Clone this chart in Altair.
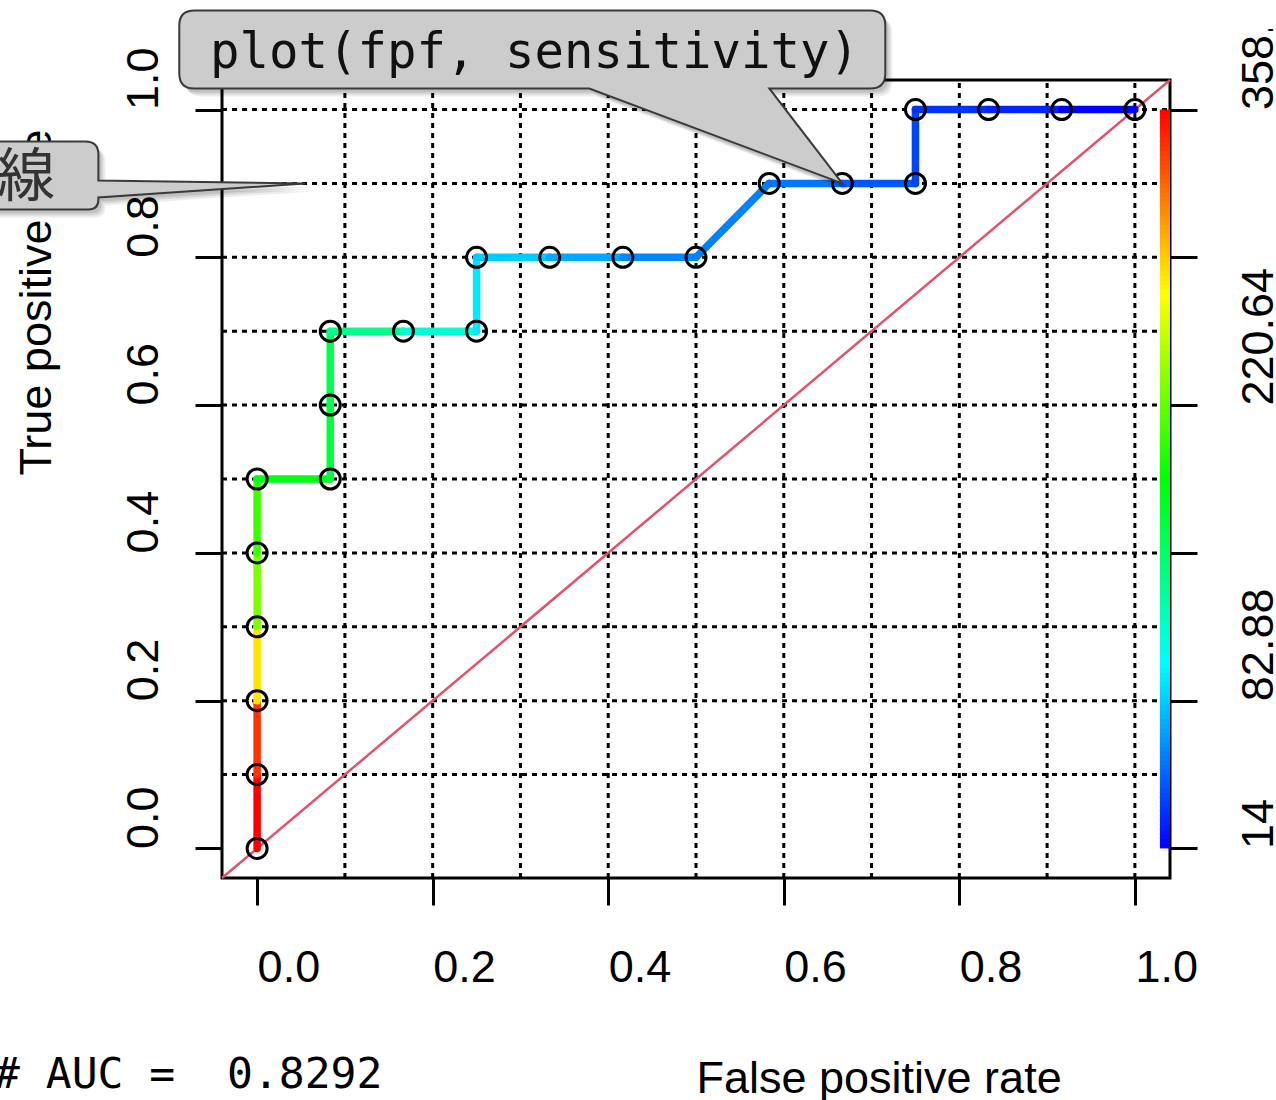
import altair as alt
import pandas as pd
import numpy as np

# ---------------- data ----------------
fpr = [0, 0, 0, 0, 0, 0, 1/12, 1/12, 1/12, 2/12, 3/12, 3/12, 4/12, 5/12, 6/12,
       7/12, 8/12, 9/12, 9/12, 10/12, 11/12, 1.0]
tpr = [0.0, 0.1, 0.2, 0.3, 0.4, 0.5, 0.5, 0.6, 0.7, 0.7, 0.7, 0.8, 0.8, 0.8, 0.8,
       0.9, 0.9, 0.9, 1.0, 1.0, 1.0, 1.0]
cutoff = [float("inf"), 358.4, 341, 281, 228, 207, 179, 165, 160, 140, 114, 92, 83,
          71, 60, 58, 54, 43, 37, 31, 26, 14]
auc_text = "# AUC =\u00a0\u00a00.8292"

x_ticks = [0.0, 0.2, 0.4, 0.6, 0.8, 1.0]
y_ticks = [0.0, 0.2, 0.4, 0.6, 0.8, 1.0]
grid_vals = [0.1, 0.2, 0.3, 0.4, 0.5, 0.6, 0.7, 0.8, 0.9, 1.0]
cb_ticks = [14, 82.88, 151.76, 220.64, 289.52, 358.4]
cb_labels = [14, 82.88, 220.64, 358.4]
rainbow = ["#0000FF", "#00FFFF", "#00FF00", "#FFFF00", "#FF0000"]

callout1_text = "plot(fpf, sensitivity)"
callout2_text = "線"

# ---------------- layout ----------------
XMIN, XMAX = -0.04, 1.04
W, H = 948, 798
cmin, cmax = 14, 358.4
crange = cmax - cmin
cb_lo, cb_hi = cmin - 0.04 * crange, cmax + 0.04 * crange

xs = alt.Scale(domain=[XMIN, XMAX], nice=False, zero=False)
ys = alt.Scale(domain=[XMIN, XMAX], nice=False, zero=False)
cs = alt.Scale(domain=[cb_lo, cb_hi], nice=False, zero=False)
color_scale = alt.Scale(domain=list(np.linspace(cmin, cmax, 5)), range=rainbow,
                        interpolate="rgb")

FONT = "Liberation Sans"

xaxis = alt.Axis(values=x_ticks, format=".1f", tickSize=27, tickWidth=3, tickColor="black",
                 domain=False, grid=False, labelFont=FONT, labelFontSize=45,
                 labelColor="black", labelAlign="left", labelBaseline="top",
                 labelPadding=40, labelAngle=0, labelFlush=False, labelOverlap=False,
                 title="False positive rate", titleFont=FONT, titleFontSize=45,
                 titleFontWeight="normal", titleColor="black", titleAlign="left",
                 titleBaseline="alphabetic", titleAngle=0, titleX=474, titleY=214)

yaxis = alt.Axis(values=y_ticks, format=".1f", tickSize=27, tickWidth=3, tickColor="black",
                 domain=False, grid=False, labelFont=FONT, labelFontSize=45,
                 labelColor="black", labelAlign="left", labelBaseline="alphabetic",
                 labelPadding=38, labelAngle=270, labelFlush=False, labelOverlap=False,
                 title="True positive rate", titleFont=FONT, titleFontSize=45,
                 titleFontWeight="normal", titleColor="black", titleAlign="left",
                 titleBaseline="alphabetic", titleAngle=270, titleX=-172, titleY=395)

shown = " || ".join(f"datum.value == {v}" for v in cb_labels)
raxis = alt.Axis(orient="right", values=cb_ticks, tickSize=27, tickWidth=3,
                 tickColor="black", domain=False, grid=False, labelFont=FONT,
                 labelFontSize=45, labelColor="black", labelAlign="left",
                 labelBaseline="alphabetic", labelPadding=75, labelAngle=270,
                 labelFlush=False, labelOverlap=False,
                 labelExpr=f"({shown}) ? format(datum.value, '~g') : ''", title="")

# ---------------- frames ----------------
seg_df = pd.DataFrame({
    "x": fpr[:-1], "y": tpr[:-1], "x2": fpr[1:], "y2": tpr[1:], "c": cutoff[1:]
})
pts_df = pd.DataFrame({"x": fpr, "y": tpr})
vgrid = pd.DataFrame({"x": grid_vals, "y": XMIN, "y2": XMAX})
hgrid = pd.DataFrame({"y": grid_vals, "x": XMIN, "x2": XMAX})
diag_df = pd.DataFrame({"x": [XMIN], "y": [XMIN], "x2": [XMAX], "y2": [XMAX]})

levels = np.linspace(cmin, cmax, 161)
cb_df = pd.DataFrame({
    "lo": levels[:-1],
    "hi": np.minimum(levels[1:] + 0.6, cmax),
    "mid": (levels[:-1] + levels[1:]) / 2,
    "x": 1.0285, "x2": XMAX,
})

X = lambda f: alt.X(f, type="quantitative", scale=xs, axis=xaxis)
Y = lambda f: alt.Y(f, type="quantitative", scale=ys, axis=yaxis)

dash = dict(color="black", strokeWidth=3, strokeDash=[5, 5])
g1 = alt.Chart(vgrid).mark_rule(**dash).encode(x=X("x"), y=Y("y"), y2="y2")
g2 = alt.Chart(hgrid).mark_rule(**dash).encode(x=X("x"), x2="x2", y=Y("y"))
diag = alt.Chart(diag_df).mark_rule(color="#DF536B", strokeWidth=2.5).encode(
    x=X("x"), y=Y("y"), x2="x2", y2="y2")
segs = alt.Chart(seg_df).mark_rule(strokeWidth=7.5, strokeCap="round").encode(
    x=X("x"), y=Y("y"), x2="x2", y2="y2",
    color=alt.Color("c:Q", scale=color_scale, legend=None))
pts = alt.Chart(pts_df).mark_point(shape="circle", size=400, filled=False, color="black",
                                   strokeWidth=3, opacity=1).encode(x=X("x"), y=Y("y"))

main = alt.layer(g1, g2, diag, segs, pts)

cbar = alt.Chart(cb_df).mark_rect(strokeWidth=0).encode(
    x=X("x"), x2="x2",
    y=alt.Y("lo:Q", scale=cs, axis=raxis), y2="hi",
    color=alt.Color("mid:Q", scale=color_scale, legend=None))

# ---------------- callouts ----------------
path1 = ("M -648 -173 L 28 -173 Q 43 -173 43 -158 L 43 -110 Q 43 -95 28 -95 "
         "L -73 -95 L 0 0 L -253 -95 L -648 -95 Q -663 -95 -663 -110 "
         "L -663 -158 Q -663 -173 -648 -173 Z")
path2 = ("M -312 -42 L -220 -42 Q -207 -42 -207 -29 L -207 -3 L 0 0 L -207 14 "
         "L -207 16 Q -207 26 -217 26 L -312 26 Q -325 26 -325 13 "
         "L -325 -29 Q -325 -42 -312 -42 Z")

tip1 = pd.DataFrame({"x": [fpr[16]], "y": [tpr[16]]})
tip2 = pd.DataFrame({"x": [0.055], "y": [0.9]})
YC = lambda f: alt.Y(f, type="quantitative", scale=ys, axis=None)

def callout(df, path):
    layers = []
    for off, op in [(7, 0.07), (5, 0.09), (3, 0.1)]:
        layers.append(alt.Chart(df).mark_point(
            shape=path, size=4, filled=True, fill="black", fillOpacity=op,
            strokeWidth=0, opacity=1, xOffset=off, yOffset=off + 1
        ).encode(x=X("x"), y=YC("y")))
    layers.append(alt.Chart(df).mark_point(
        shape=path, size=4, filled=True, fill="#CCCCCC", stroke="#3A3A3A",
        strokeWidth=2, opacity=1
    ).encode(x=X("x"), y=YC("y")))
    return layers

one = pd.DataFrame({"t": [""]})
# the reference image is cut just above the last colour-key label
mask = alt.Chart(one).mark_rect(color="white", strokeWidth=0).encode(
    x=alt.value(980), x2=alt.value(1054), y=alt.value(-80), y2=alt.value(-51))

texts = [
    alt.Chart(pd.DataFrame({"t": [callout1_text]})).mark_text(
        font="DejaVu Sans Mono", fontSize=49, color="#111111", align="left",
        baseline="alphabetic").encode(x=alt.value(-12), y=alt.value(-12), text="t:N"),
    alt.Chart(pd.DataFrame({"t": [callout2_text]})).mark_text(
        font="Noto Sans CJK JP", fontSize=58, color="#333333", align="left",
        baseline="alphabetic").encode(x=alt.value(-225), y=alt.value(116), text="t:N"),
    alt.Chart(pd.DataFrame({"t": [auc_text]})).mark_text(
        font="DejaVu Sans Mono", fontSize=43, color="black", align="left",
        baseline="alphabetic").encode(x=alt.value(-228), y=alt.value(1008), text="t:N"),
]

notes = alt.layer(*callout(tip2, path2), *callout(tip1, path1), mask, *texts)

chart = alt.layer(main, cbar, notes).resolve_scale(y="independent").properties(
    width=W, height=H,
    autosize=alt.AutoSizeParams(type="none"),
    padding={"left": 222, "top": 80, "right": 106, "bottom": 222},
    background="white",
).configure_view(stroke="black", strokeWidth=3)

chart.save("out.html", embed_options={"renderer": "svg", "actions": False})
